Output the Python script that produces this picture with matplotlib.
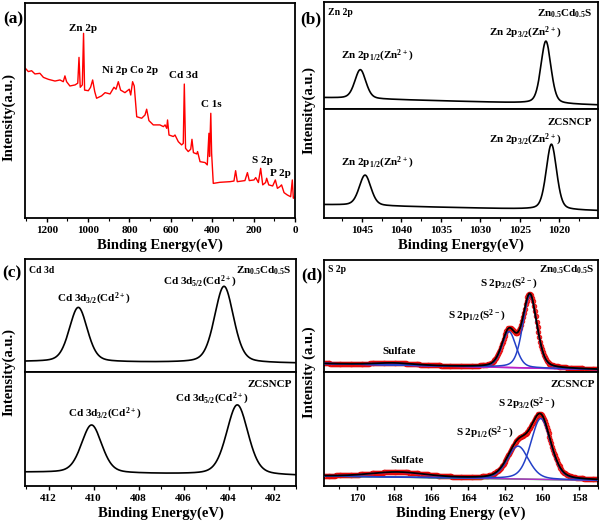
import numpy as np
import matplotlib
matplotlib.use('Agg')
import matplotlib.pyplot as plt
from matplotlib.ticker import MultipleLocator

plt.rcParams['font.family'] = ['Liberation Serif', 'DejaVu Serif']
plt.rcParams['font.weight'] = 'bold'
plt.rcParams['mathtext.fontset'] = 'custom'
plt.rcParams['mathtext.rm'] = 'Liberation Serif:bold'
plt.rcParams['mathtext.it'] = 'Liberation Serif:bold'
plt.rcParams['mathtext.bf'] = 'Liberation Serif:bold'
plt.rcParams['axes.linewidth'] = 1.3

# (a) survey spectrum, vertices
survey_be = [1303, 1289, 1273, 1257, 1233, 1216, 1192, 1160, 1136, 1120, 1112, 1104,
             1088, 1063, 1050, 1044, 1038, 1028, 1022, 1017, 999, 988, 978, 968, 959,
             935, 918, 894, 875, 865, 854, 843, 822, 801, 794, 785, 777, 765, 741, 725,
             717, 706, 685, 653, 636, 628, 620, 616, 609, 588, 580, 564, 548, 540, 535,
             529, 516, 504, 498, 491, 475, 471, 459, 435, 424, 416, 413, 407, 403, 395,
             363, 314, 295, 287, 279, 242, 230, 221, 198, 190, 177, 166, 156, 142, 137,
             127, 108, 95, 85, 73, 65, 53, 37, 21, 13, 8, 5]
survey_int = [69.6, 68.1, 68.5, 67.0, 67.3, 65.4, 64.5, 63.7, 64.2, 63.4, 66.1, 63.4,
              61.4, 61.9, 62.7, 74.7, 60.8, 61.9, 85.9, 59.5, 59.2, 60.8, 64.2, 58.8, 55.7,
              56.8, 58.3, 57.7, 60.8, 59.9, 63.4, 59.5, 58.3, 59.9, 57.2, 63.4, 61.4, 47.1,
              46.4, 47.9, 50.6, 45.3, 43.3, 43.3, 42.5, 43.3, 41.7, 45.6, 38.6, 37.9, 38.6,
              35.5, 34.0, 34.7, 62.3, 32.4, 30.9, 32.0, 36.6, 30.4, 29.8, 30.9, 26.2, 25.8,
              24.7, 39.4, 28.6, 48.7, 30.1, 16.1, 16.6, 16.9, 17.2, 22.0, 16.9, 17.4, 21.1,
              17.4, 17.7, 18.8, 16.5, 23.1, 15.4, 16.5, 18.5, 15.4, 14.9, 17.7, 13.8, 14.6,
              15.4, 11.8, 10.7, 9.9, 17.7, 9.2, 9.6]
survey_labels = ['Zn 2p', 'Ni 2p', 'Co 2p', 'Cd 3d', 'C 1s', 'S 2p', 'P 2p']
survey_label_be = [1023, 870, 728, 540, 403, 158, 72]
survey_label_int = [88.2, 68.4, 68.4, 66.5, 52.6, 26.7, 20.5]

# (b) Zn 2p: peak centre, height, fwhm; background at left/right edges
zn_top_pos = [1045.2, 1021.7]
zn_top_amp = [29.0, 62.5]
zn_top_fwhm = [1.65, 1.5]
zn_top_bg = [11.3, 4.0]
zn_bot_pos = [1044.6, 1021.0]
zn_bot_amp = [30.5, 65.5]
zn_bot_fwhm = [1.75, 1.55]
zn_bot_bg = [13.3, 7.3]

# (c) Cd 3d
cd_top_pos = [410.68, 404.2]
cd_top_amp = [54.5, 76.5]
cd_top_fwhm = [0.95, 1.0]
cd_top_bg = [10.3, 8.7]
cd_bot_pos = [410.09, 403.61]
cd_bot_amp = [48.0, 70.0]
cd_bot_fwhm = [1.07, 1.13]
cd_bot_bg = [13.7, 10.3]

# (d) S 2p fit: sulfate, 2p1/2, 2p3/2
s_top_pos = [168.0, 161.81, 160.68]
s_top_amp = [2.0, 36.0, 72.7]
s_top_fwhm = [2.5, 0.9, 0.9]
s_top_bg = [8.5, 2.5]
s_bot_pos = [167.8, 161.32, 160.09]
s_bot_amp = [5.0, 33.0, 61.0]
s_bot_fwhm = [3.5, 1.35, 1.27]
s_bot_bg = [10.0, 5.6]


def pv(x, c, a, w, eta=0.3):
    g = np.exp(-4 * np.log(2) * ((x - c) / w) ** 2)
    l = 1 / (1 + 4 * ((x - c) / w) ** 2)
    return a * ((1 - eta) * g + eta * l)


def background(x, lim, bg):
    return bg[0] + (bg[1] - bg[0]) * (lim[0] - x) / (lim[0] - lim[1])


def spectrum(x, lim, pos, amp, fwhm, bg):
    y = background(x, lim, bg)
    for c, a, w in zip(pos, amp, fwhm):
        y = y + pv(x, c, a, w)
    return y


fig = plt.figure(figsize=(6, 5.27), dpi=100)
W, H = 600.0, 527.0


def box(x0, y0, x1, y1):
    return [x0 / W, 1 - y1 / H, (x1 - x0) / W, (y1 - y0) / H]


def style(ax, lim, major, minor, bottom=True):
    ax.set_xlim(lim)
    ax.set_yticks([])
    ax.xaxis.set_major_locator(MultipleLocator(major))
    ax.xaxis.set_minor_locator(MultipleLocator(minor))
    ax.tick_params(axis='x', which='major', direction='out', length=3, width=1,
                   labelsize=8, pad=2.5)
    ax.tick_params(axis='x', which='minor', direction='out', length=2, width=0.8)
    if not bottom:
        ax.tick_params(axis='x', which='both', bottom=False, labelbottom=False)
    else:
        ax.set_xlabel('Binding Energy(eV)', fontsize=10.5, fontweight='bold', labelpad=3)


txt = dict(fontsize=8, fontweight='bold')
corner = dict(fontsize=7, fontweight='bold')

# ---- (a)
lim_a = (1305, 0)
ax = fig.add_axes(box(25, 3, 295, 218))
ax.plot(survey_be, survey_int, color='red', lw=1.0)
ax.set_ylim(0, 100)
style(ax, lim_a, 200, 100)
for lab, e, v in zip(survey_labels, survey_label_be, survey_label_int):
    ax.text(e, v, lab, ha='center', va='center', fontsize=8, fontweight='bold')
fig.text(13 / W, 1 - 19 / H, '(a)', fontsize=12.5, fontweight='bold', ha='center', va='center')
fig.text(9 / W, 1 - 117 / H, 'Intensity(a.u.)', rotation=90, fontsize=10.5,
         fontweight='bold', ha='center', va='center')

# ---- (b)
lim_b = (1049.8, 1015.1)
xb = np.linspace(lim_b[1], lim_b[0], 800)
axt = fig.add_axes(box(324, 2, 598, 109))
axt.plot(xb, spectrum(xb, lim_b, zn_top_pos, zn_top_amp, zn_top_fwhm, zn_top_bg), color='black', lw=1.2)
axt.set_ylim(0, 107)
style(axt, lim_b, 5, 2.5, bottom=False)
axt.text(0.015, 0.9, 'Zn 2p', transform=axt.transAxes, ha='left', va='center', **corner)
axt.text(0.982, 0.89, r'Zn$_{0.5}$Cd$_{0.5}$S', transform=axt.transAxes, ha='right', va='center', **txt)
axt.text(0.193, 0.5, r'Zn 2p$_{1/2}$(Zn$^{2+}$)', transform=axt.transAxes, ha='center', va='center', **txt)
axt.text(0.734, 0.71, r'Zn 2p$_{3/2}$(Zn$^{2+}$)', transform=axt.transAxes, ha='center', va='center', **txt)

axb = fig.add_axes(box(324, 109, 598, 218))
axb.plot(xb, spectrum(xb, lim_b, zn_bot_pos, zn_bot_amp, zn_bot_fwhm, zn_bot_bg), color='black', lw=1.2)
axb.set_ylim(0, 109)
style(axb, lim_b, 5, 2.5)
axb.text(0.978, 0.88, 'ZCSNCP', transform=axb.transAxes, ha='right', va='center', **txt)
axb.text(0.734, 0.716, r'Zn 2p$_{3/2}$(Zn$^{2+}$)', transform=axb.transAxes, ha='center', va='center', **txt)
axb.text(0.193, 0.505, r'Zn 2p$_{1/2}$(Zn$^{2+}$)', transform=axb.transAxes, ha='center', va='center', **txt)
fig.text(311 / W, 1 - 19 / H, '(b)', fontsize=12.5, fontweight='bold', ha='center', va='center')
fig.text(309 / W, 1 - 110 / H, 'Intensity(a.u.)', rotation=90, fontsize=10.5,
         fontweight='bold', ha='center', va='center')

# ---- (c)
lim_c = (413.05, 401.0)
xc = np.linspace(lim_c[1], lim_c[0], 800)
axt = fig.add_axes(box(25, 259, 296, 372))
axt.plot(xc, spectrum(xc, lim_c, cd_top_pos, cd_top_amp, cd_top_fwhm, cd_top_bg), color='black', lw=1.2)
axt.set_ylim(0, 113)
style(axt, lim_c, 2, 1, bottom=False)
axt.text(0.015, 0.9, 'Cd 3d', transform=axt.transAxes, ha='left', va='center', **corner)
axt.text(0.984, 0.9, r'Zn$_{0.5}$Cd$_{0.5}$S', transform=axt.transAxes, ha='right', va='center', **txt)
axt.text(0.643, 0.794, r'Cd 3d$_{5/2}$(Cd$^{2+}$)', transform=axt.transAxes, ha='center', va='center', **txt)
axt.text(0.252, 0.646, r'Cd 3d$_{3/2}$(Cd$^{2+}$)', transform=axt.transAxes, ha='center', va='center', **txt)

axb = fig.add_axes(box(25, 372, 296, 486))
axb.plot(xc, spectrum(xc, lim_c, cd_bot_pos, cd_bot_amp, cd_bot_fwhm, cd_bot_bg), color='black', lw=1.2)
axb.set_ylim(0, 114)
style(axb, lim_c, 2, 1)
axb.text(0.985, 0.888, 'ZCSNCP', transform=axb.transAxes, ha='right', va='center', **txt)
axb.text(0.689, 0.763, r'Cd 3d$_{5/2}$(Cd$^{2+}$)', transform=axb.transAxes, ha='center', va='center', **txt)
axb.text(0.295, 0.632, r'Cd 3d$_{3/2}$(Cd$^{2+}$)', transform=axb.transAxes, ha='center', va='center', **txt)
fig.text(12 / W, 1 - 273 / H, '(c)', fontsize=12.5, fontweight='bold', ha='center', va='center')
fig.text(9 / W, 1 - 372 / H, 'Intensity(a.u.)', rotation=90, fontsize=10.5,
         fontweight='bold', ha='center', va='center')

# ---- (d)
lim_d = (171.8, 157.0)
xd = np.linspace(lim_d[1], lim_d[0], 300)
xf = np.linspace(lim_d[1], lim_d[0], 800)


def s2p(ax, pos, amp, fwhm, bg, bg_color, sulf_color):
    ax.plot(xd, spectrum(xd, lim_d, pos, amp, fwhm, bg), 'o', ms=3.4, mfc='#ff3030',
            mec='#e00000', mew=0.5, zorder=1)
    base = background(xf, lim_d, bg)
    ax.plot(xf, base, color=bg_color, lw=1.1, zorder=2)
    ax.plot(xf, base + pv(xf, pos[0], amp[0], fwhm[0]), color=sulf_color, lw=1.1, zorder=2)
    for c, a, w in zip(pos[1:], amp[1:], fwhm[1:]):
        ax.plot(xf, base + pv(xf, c, a, w), color='#2340c8', lw=1.1, zorder=3)
    ax.plot(xf, spectrum(xf, lim_d, pos, amp, fwhm, bg), color='black', lw=1.3, zorder=4)


axt = fig.add_axes(box(324, 260, 598, 372))
s2p(axt, s_top_pos, s_top_amp, s_top_fwhm, s_top_bg, '#8a2be2', '#c020c0')
axt.set_ylim(0, 112)
style(axt, lim_d, 2, 1, bottom=False)
axt.text(0.015, 0.915, 'S 2p', transform=axt.transAxes, ha='left', va='center', **corner)
axt.text(0.989, 0.915, r'Zn$_{0.5}$Cd$_{0.5}$S', transform=axt.transAxes, ha='right', va='center', **txt)
axt.text(0.675, 0.79, r'S 2p$_{3/2}$(S$^{2-}$)', transform=axt.transAxes, ha='center', va='center', **txt)
axt.text(0.559, 0.503, r'S 2p$_{1/2}$(S$^{2-}$)', transform=axt.transAxes, ha='center', va='center', **txt)
axt.text(0.274, 0.185, 'Sulfate', transform=axt.transAxes, ha='center', va='center', **txt)

axb = fig.add_axes(box(324, 372, 598, 486))
s2p(axb, s_bot_pos, s_bot_amp, s_bot_fwhm, s_bot_bg, '#3ccc3c', '#b030c8')
axb.set_ylim(0, 114)
style(axb, lim_d, 2, 1)
axb.set_xlabel('Binding Energy (eV)', fontsize=10.5, fontweight='bold', labelpad=3)
axb.text(0.989, 0.888, 'ZCSNCP', transform=axb.transAxes, ha='right', va='center', **txt)
axb.text(0.74, 0.719, r'S 2p$_{3/2}$(S$^{2-}$)', transform=axb.transAxes, ha='center', va='center', **txt)
axb.text(0.588, 0.462, r'S 2p$_{1/2}$(S$^{2-}$)', transform=axb.transAxes, ha='center', va='center', **txt)
axb.text(0.304, 0.222, 'Sulfate', transform=axb.transAxes, ha='center', va='center', **txt)
fig.text(312 / W, 1 - 275 / H, '(d)', fontsize=12.5, fontweight='bold', ha='center', va='center')
fig.text(309 / W, 1 - 372 / H, 'Intensity (a.u.)', rotation=90, fontsize=10.5,
         fontweight='bold', ha='center', va='center')

fig.savefig('out.png', dpi=100)
